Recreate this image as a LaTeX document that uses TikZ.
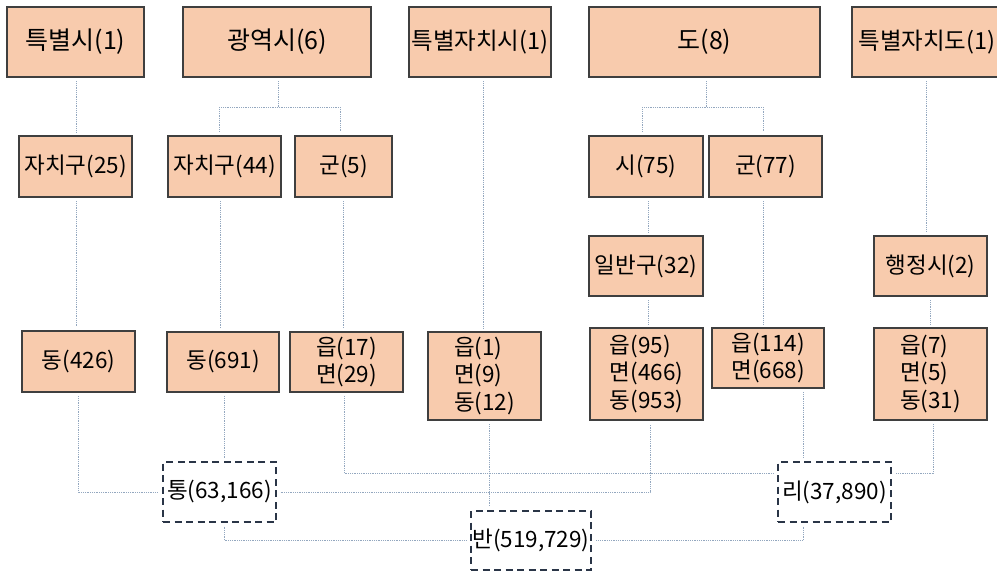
\documentclass[tikz,border=0pt]{standalone}
\usepackage{fontspec}
\setmainfont{Noto Sans CJK KR}
\definecolor{peach}{HTML}{F8CBAD}
\definecolor{boxline}{HTML}{3F3F3F}
\definecolor{dashline}{HTML}{2A3547}
\definecolor{connline}{HTML}{93A7BF}
\begin{document}
\begin{tikzpicture}[x=1pt,y=-1pt,
  box/.style={draw=boxline, fill=peach, line width=1.3pt, inner sep=0pt, align=left,
    font=\fontsize{22.5}{27.5}\selectfont, text=black},
  bigtxt/.style={font=\fontsize{25}{30}\selectfont},
  midtxt/.style={font=\fontsize{23.5}{28}\selectfont},
  dbox/.style={draw=dashline, fill=white, line width=2.2pt, dash pattern=on 7pt off 4.5pt,
    inner sep=0pt, align=center, font=\fontsize{22.5}{27.5}\selectfont, text=black},
  conn/.style={draw=connline, line width=0.9pt, dash pattern=on 1pt off 0.8pt,
    shorten <=3.5pt, shorten >=3.5pt}]
\useasboundingbox (0,0) rectangle (997,572);
\clip (0,0) rectangle (997,572);

% top row
\node[box, bigtxt, minimum width=137pt, minimum height=70pt] (t1) at (75.5,42) {특별시(1)};
\node[box, bigtxt, minimum width=188pt, minimum height=70pt] (t2) at (277,42) {광역시(6)};
\node[box, midtxt, minimum width=142pt, minimum height=70pt] (t3) at (480,42) {특별자치시(1)};
\node[box, bigtxt, minimum width=231pt, minimum height=70pt] (t4) at (704.5,42) {도(8)};
\node[box, midtxt, minimum width=150pt, minimum height=70pt] (t5) at (927,42) {특별자치도(1)};

% second row
\node[box, minimum width=113pt, minimum height=61pt] (s1) at (75.5,166.5) {자치구(25)};
\node[box, minimum width=113pt, minimum height=61pt] (s2) at (224.5,166.5) {자치구(44)};
\node[box, minimum width=97pt, minimum height=61pt] (s3) at (343.5,166.5) {군(5)};
\node[box, minimum width=114pt, minimum height=61pt] (s4) at (646,166.5) {시(75)};
\node[box, minimum width=113pt, minimum height=61pt] (s5) at (765.5,166.5) {군(77)};

% third row
\node[box, minimum width=114pt, minimum height=60pt] (r1) at (646,266) {일반구(32)};
\node[box, minimum width=113pt, minimum height=60pt] (r2) at (930.5,266) {행정시(2)};

% fourth row
\node[box, minimum width=113pt, minimum height=61pt] (b1) at (78.5,361.5) {동(426)};
\node[box, minimum width=112pt, minimum height=60pt] (b2) at (223,362) {동(691)};
\node[box, minimum width=113pt, minimum height=60pt] (b3) at (346.5,362) {읍(17)\\면(29)};
\node[box, minimum width=113pt, minimum height=88pt] (b4) at (484.5,376) {읍(1)\\면(9)\\동(12)};
\node[box, minimum width=113pt, minimum height=92pt] (b5) at (646.5,374) {읍(95)\\면(466)\\동(953)};
\node[box, minimum width=112pt, minimum height=60pt] (b6) at (768,358) {읍(114)\\면(668)};
\node[box, minimum width=113pt, minimum height=92pt] (b7) at (930.5,374) {읍(7)\\면(5)\\동(31)};

% dashed boxes
\node[dbox, minimum width=113pt, minimum height=60pt] (d1) at (219.5,492) {통(63,166)};
\node[dbox, minimum width=113pt, minimum height=60pt] (d2) at (834.5,492) {리(37,890)};
\node[dbox, minimum width=120pt, minimum height=59pt] (d3) at (531,540.5) {반(519,729)};

% helper coordinates
\coordinate (g1l) at (219,107);
\coordinate (g1r) at (340,107);
\coordinate (g1c) at (278,107);
\coordinate (g2l) at (642,107);
\coordinate (g2r) at (763,107);
\coordinate (g2c) at (706,107);
\coordinate (xa) at (76,0);
\coordinate (xb) at (220,0);
\coordinate (xc) at (343,0);
\coordinate (xd) at (78,0);
\coordinate (xe) at (344,0);
\coordinate (xf) at (483,0);
\coordinate (xg) at (489,0);
\coordinate (xh) at (224,0);
\coordinate (xi) at (650,0);
\coordinate (xj) at (648,0);
\coordinate (xk) at (763,0);
\coordinate (xl) at (803,0);
\coordinate (xm) at (926,0);
\coordinate (xn) at (930,0);
\coordinate (xo) at (933,0);
\coordinate (yr) at (0,473);

% connectors
\draw[conn] (t1.south -| xa) -- (s1.north -| xa);
\draw[conn, shorten >=0pt] (t2.south -| g1c) -- (g1c);
\draw[conn] (s2.north -| g1l) -- (g1l) -- (g1r) -- (s3.north -| g1r);
\draw[conn] (s1.south -| xa) -- (b1.north -| xa);
\draw[conn] (s2.south -| xb) -- (b2.north -| xb);
\draw[conn] (s3.south -| xc) -- (b3.north -| xc);
\draw[conn] (b1.south -| xd) |- (d1.west);
\draw[conn] (b2.south -| xh) -- (d1.north -| xh);
\draw[conn] (b3.south -| xe) |- (d2.west |- yr);
\draw[conn] (t3.south -| xf) -- (b4.north -| xf);
\draw[conn] (b4.south -| xg) -- (d3.north -| xg);
\draw[conn] (d1.south -| xh) |- (d3.west);
\draw[conn] (d1.east) -| (b5.south -| xi);
\draw[conn, shorten >=0pt] (t4.south -| g2c) -- (g2c);
\draw[conn] (s4.north -| g2l) -- (g2l) -- (g2r) -- (s5.north -| g2r);
\draw[conn] (s4.south -| xj) -- (r1.north -| xj);
\draw[conn] (r1.south -| xj) -- (b5.north -| xj);
\draw[conn] (s5.south -| xk) -- (b6.north -| xk);
\draw[conn] (b6.south -| xl) -- (d2.north -| xl);
\draw[conn] (t5.south -| xm) -- (r2.north -| xm);
\draw[conn] (r2.south -| xn) -- (b7.north -| xn);
\draw[conn] (b7.south -| xo) |- (d2.east |- yr);
\draw[conn] (d2.south -| xl) |- (d3.east);
\end{tikzpicture}
\end{document}
